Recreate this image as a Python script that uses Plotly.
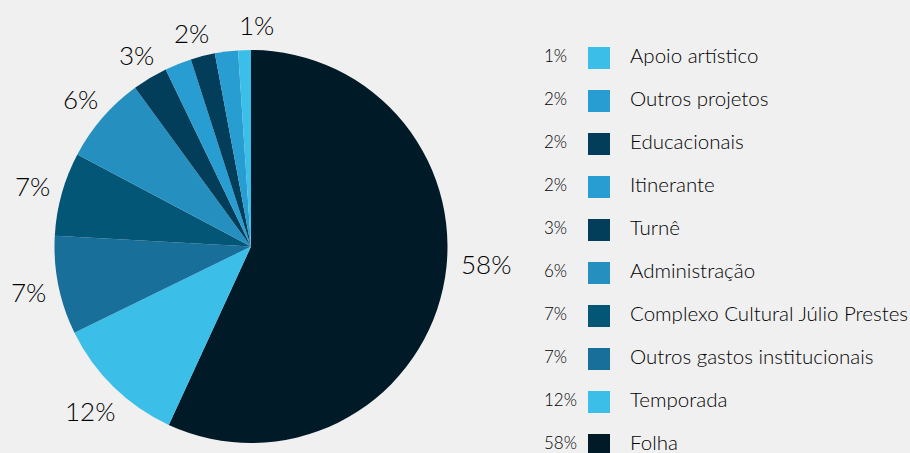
import math
import plotly.graph_objects as go

# Data (clockwise from 12 o'clock)
categories = ["Folha", "Temporada", "Outros gastos institucionais",
              "Complexo Cultural Júlio Prestes", "Administração", "Turnê",
              "Itinerante", "Educacionais", "Outros projetos", "Apoio artístico"]
values = [56.9, 10.9, 8.1, 6.9, 7.2, 2.9, 2.2, 2.0, 1.9, 1.05]
pct_labels = ["58%", "12%", "7%", "7%", "6%", "3%", "2%", "2%", "2%", "1%"]
slice_text = ["58%", "12%", "7%", "7%", "6%", "3%", "", "2%", "", "1%"]
colors = ["#011a28", "#3bbfe9", "#18709a", "#045676", "#2590c0",
          "#023d5a", "#279dd1", "#023d5a", "#279dd1", "#3bbfe9"]

# Layout / style constants
FONT = "Lato"
TXT = "#000000"
W, H = 910, 453
CX, CY, R = 251, 246.5, 196.5       # pie centre and radius (px)
LABEL_GAP = 14                       # gap between pie edge and label box (px)
LABEL_SIZE = 26
label_nudge_deg = {"Folha": -8, "Educacionais": -1.3, "Apoio artístico": 3.3}

fig = go.Figure()

fig.add_trace(go.Pie(
    labels=categories,
    values=values,
    textinfo="none",
    sort=False,
    direction="clockwise",
    rotation=0,
    marker=dict(colors=colors, line=dict(width=0)),
    showlegend=False,
    hoverinfo="label+percent",
    automargin=False,
    domain=dict(x=[(CX - R) / W, (CX + R) / W],
                y=[1 - (CY + R) / H, 1 - (CY - R) / H]),
))

# Slice labels placed outside each slice's mid angle
total = sum(values)
cum = 0.0
for cat, v, t in zip(categories, values, slice_text):
    mid = (cum + v / 2) / total * 360.0
    cum += v
    if not t:
        continue
    a = math.radians(mid + label_nudge_deg.get(cat, 0))
    s, c = math.sin(a), math.cos(a)
    w = 16 * len(t) + 2
    h = 22
    half_ext = math.hypot(s * w / 2, c * h / 2)
    dist = R + LABEL_GAP + half_ext
    px = CX + dist * s
    py = CY - dist * c
    fig.add_annotation(
        x=px / W, y=1 - py / H, xref="paper", yref="paper",
        text=t, showarrow=False, xanchor="center", yanchor="middle",
        font=dict(family=FONT, size=LABEL_SIZE, color=TXT, weight=300),
    )

# Custom legend (rows spaced evenly), built from the same data
leg_x_pct, leg_x_sq, leg_x_lab = 544, 599, 630
fig.add_trace(go.Scatter(
    x=[leg_x_sq] * len(categories), y=categories, mode="markers",
    marker=dict(symbol="square", size=22, color=colors, line=dict(width=0)),
    showlegend=False, hoverinfo="skip", cliponaxis=False,
))
fig.add_trace(go.Scatter(
    x=[leg_x_pct] * len(categories), y=categories, mode="text",
    text=pct_labels, textposition="middle right",
    textfont=dict(family=FONT, size=17, color=TXT, weight=300),
    showlegend=False, hoverinfo="skip", cliponaxis=False,
))
fig.add_trace(go.Scatter(
    x=[leg_x_lab] * len(categories), y=categories, mode="text",
    text=categories, textposition="middle right",
    textfont=dict(family=FONT, size=20.5, color=TXT, weight=300),
    showlegend=False, hoverinfo="skip", cliponaxis=False,
))

fig.update_layout(
    width=W, height=H,
    margin=dict(l=0, r=0, t=0, b=0),
    paper_bgcolor="#f0f0f0",
    plot_bgcolor="rgba(0,0,0,0)",
    xaxis=dict(range=[0, W], domain=[0, 1], visible=False, fixedrange=True),
    yaxis=dict(type="category", categoryorder="array", categoryarray=categories,
               range=[-0.186, 10.349], domain=[0, 1], visible=False, fixedrange=True),
    font=dict(family=FONT, color=TXT),
)

fig.write_html("out.html", config={"displayModeBar": False})

# remove the default page margin so the figure fills the window
with open("out.html", encoding="utf-8") as f:
    html = f.read()
html = html.replace("<body>", '<body style="margin:0;padding:0;overflow:hidden;background:#f0f0f0">', 1)
with open("out.html", "w", encoding="utf-8") as f:
    f.write(html)
